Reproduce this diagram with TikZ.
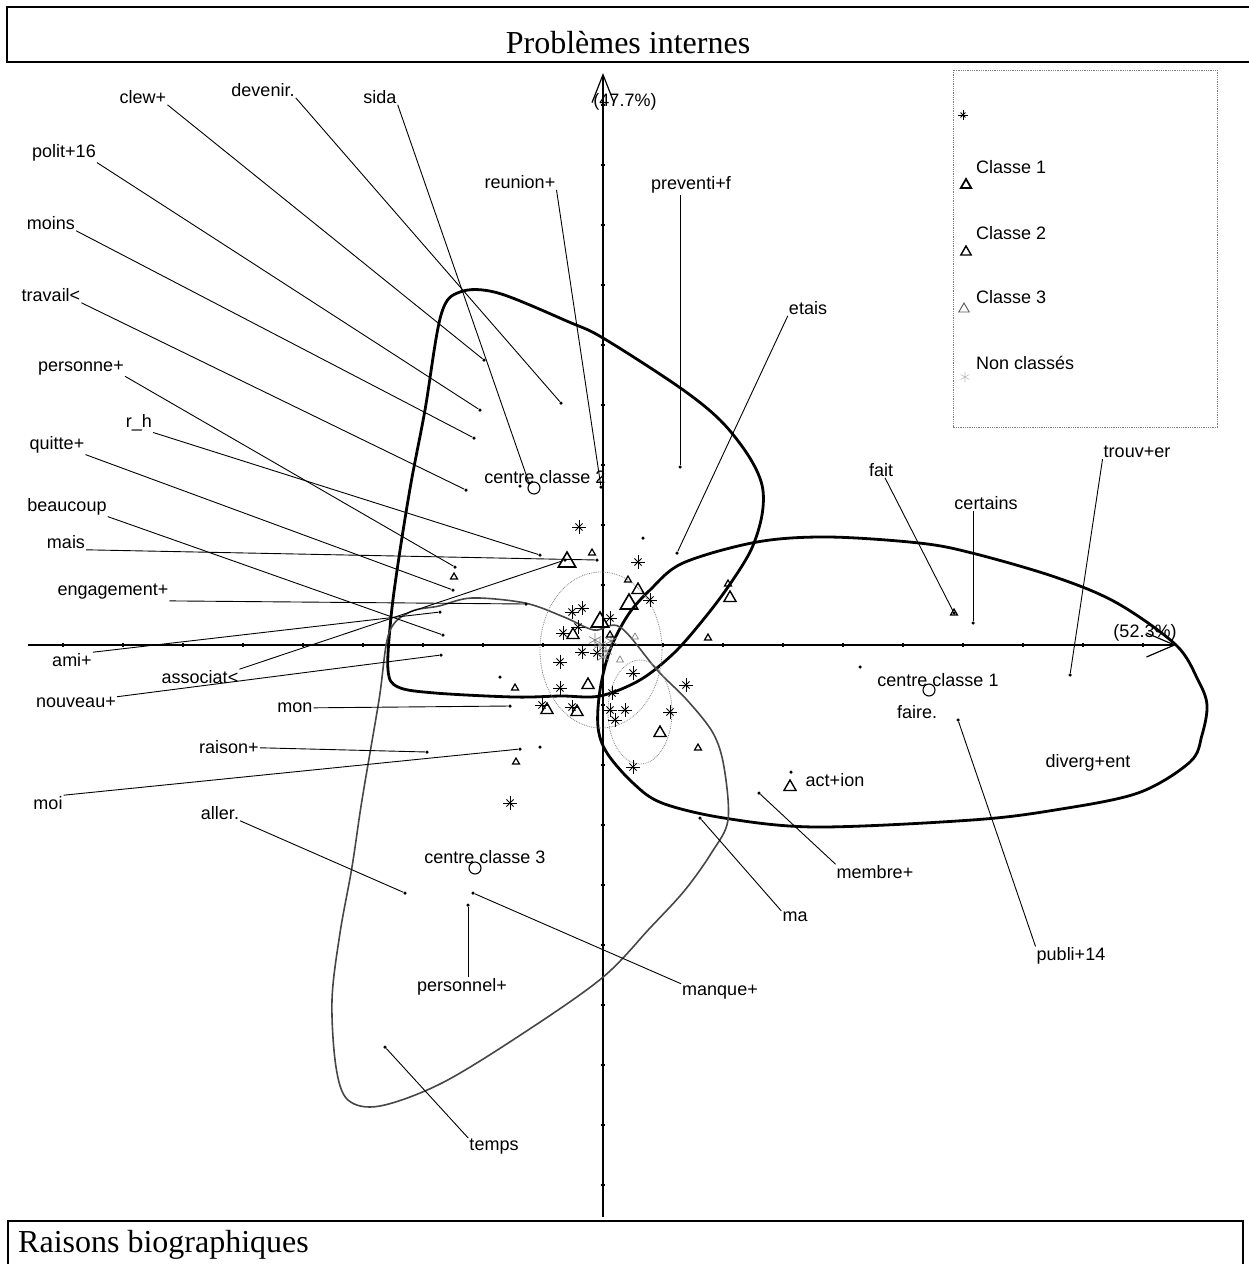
\documentclass[tikz,border=0pt]{standalone}
\usepackage{fontspec}
\setmainfont{Liberation Serif}
\setsansfont{Liberation Sans}
\usetikzlibrary{arrows.meta,plotmarks}

\tikzset{
  lbl/.style={font=\sffamily\fontsize{18}{20}\selectfont, inner sep=1pt},
  pt/.style={circle, fill, inner sep=0pt, minimum size=3.5pt},
  lead/.style={line width=0.9pt},
  axe/.style={line width=1.2pt},
  classe/.style={line width=2.8pt, line join=round},
  classetrois/.style={line width=1.6pt, gray!55!black},
  centre/.style={circle, draw, line width=1.1pt, inner sep=0pt, minimum size=12pt},
  titre/.style={font=\fontsize{32}{36}\selectfont, inner sep=0pt},
}

\begin{document}
\begin{tikzpicture}[x=1pt,y=-1pt]
  \useasboundingbox (0,0) rectangle (1249,1264);

  % cadres des titres
  \draw[line width=1.8pt] (1249,7) -- (7,7) -- (7,62) -- (1249,62);
  \draw[line width=1.8pt] (8,1264) -- (8,1221) -- (1243,1221) -- (1243,1264);
  \node[titre, anchor=base] (haut) at (628,53) {Problèmes internes};
  \node[titre, anchor=base west] (bas) at (18,1252) {Raisons biographiques};

  % axes
  \coordinate (xg) at (28,645);
  \coordinate (xd) at (1176,645);
  \coordinate (yb) at (603,1217);
  \coordinate (yh) at (603,73);
  \draw[axe, -{Straight Barb[length=28pt,width=24pt]}] (xg) -- (xd);
  \draw[axe, -{Straight Barb[length=28pt,width=22pt]}] (yb) -- (yh);
  \foreach \i in {-9,...,9} {
    \draw[axe] (603+60*\i,643) -- (603+60*\i,647);
    \draw[axe] (601,645+60*\i) -- (605,645+60*\i);
  }
  \node[lbl] (axey) at (625,102) {(47.7\%)};
  \node[lbl] (axex) at (1145,633) {(52.3\%)};

  % classes
  \draw[classe] plot[smooth cycle, tension=0.55] coordinates {(650,590) (683,563) (757,542) (828,537) (919,543) (972,553) (1055,577) (1117,603) (1176,645) (1198,680) (1207,705) (1202,735) (1190,762) (1138,793) (1055,810) (972,820) (816,827) (724,818) (662,803) (633,783) (607,753) (598,727) (600,690) (610,650) (628,615)};
  \draw[classe] plot[smooth cycle, tension=0.55] coordinates {(460,292) (498,293) (569,322) (603,338) (679,387) (720,420) (748,455) (762,485) (762,515) (751,550) (728,587) (703,620) (674,653) (640,680) (600,696) (561,696) (514,697) (435,693) (398,687) (388,670) (391,617) (399,557) (411,483) (425,410) (441,315)};
  \draw[classetrois] plot[smooth cycle, tension=0.55] coordinates {(620,627) (657,670) (687,700) (713,733) (724,767) (728,820) (712,852) (685,890) (650,928) (602,978) (522,1034) (442,1083) (380,1106) (348,1100) (336,1067) (332,1000) (340,933) (352,867) (362,800) (379,700) (389,633) (410,612) (439,606) (472,598) (525,603) (564,617) (594,630)};
  \draw[gray, densely dotted, line width=0.8pt] (601,650) ellipse [x radius=61, y radius=78];
  \draw[gray, densely dotted, line width=0.8pt] (640,712) ellipse [x radius=32, y radius=52];

  % legende
  \draw[gray, densely dotted, line width=0.8pt] (953,70) rectangle (1217,427);
  \node[lbl, anchor=west] (cl1) at (975,167) {Classe 1};
  \node[lbl, anchor=west] (cl2) at (975,233) {Classe 2};
  \node[lbl, anchor=west] (cl3) at (975,297) {Classe 3};
  \node[lbl, anchor=west] (ncl) at (975,363) {Non classés};
  \draw[line width=0.9pt] plot[only marks, mark=+, mark size=5pt] coordinates {(963,115)};
  \draw[line width=0.9pt] plot[only marks, mark=x, mark size=3.5pt] coordinates {(963,115)};
  \draw[line width=1.8pt] plot[only marks, mark=triangle, mark size=6pt] coordinates {(966,185)};
  \draw[line width=1.4pt] plot[only marks, mark=triangle, mark size=6pt] coordinates {(966,252)};
  \draw[gray!70!black, line width=0.9pt] plot[only marks, mark=triangle, mark size=6pt] coordinates {(964,309)};
  \draw[gray!50, line width=0.6pt] plot[only marks, mark=asterisk, mark size=5pt] coordinates {(965,377)};

  % points des individus
  \draw[line width=0.9pt] plot[only marks, mark=+, mark size=7pt] coordinates {(579,527) (638,562) (650,600) (582,608) (572,612) (563,633) (578,627) (610,618) (560,662) (582,652) (597,653) (633,673) (686,685) (560,688) (542,705) (572,707) (612,693) (610,710) (625,710) (615,720) (670,712) (633,767) (510,803)};
  \draw[line width=0.9pt] plot[only marks, mark=x, mark size=5pt] coordinates {(579,527) (638,562) (650,600) (582,608) (572,612) (563,633) (578,627) (610,618) (560,662) (582,652) (597,653) (633,673) (686,685) (560,688) (542,705) (572,707) (612,693) (610,710) (625,710) (615,720) (670,712) (633,767) (510,803)};
  \draw[gray, line width=0.7pt] plot[only marks, mark=asterisk, mark size=7pt] coordinates {(600,645) (606,651) (595,640) (603,657) (611,641)};
  \draw[line width=1.6pt] plot[only marks, mark=triangle, mark size=10pt] coordinates {(567,562) (600,622) (629,604)};
  \draw[line width=1.4pt] plot[only marks, mark=triangle, mark size=7pt] coordinates {(638,590) (588,685) (577,712) (547,710) (660,733) (730,598) (573,635) (790,787)};
  \draw[line width=1.2pt] plot[only marks, mark=triangle, mark size=4pt] coordinates {(592,553) (628,580) (610,635) (728,584) (708,638) (698,748) (515,688) (454,577) (516,762) (954,613)};
  \draw[gray, line width=0.7pt] plot[only marks, mark=triangle, mark size=4pt] coordinates {(635,637) (620,660)};

  % centres de classes
  \node[centre] (o1) at (929,690) {};
  \node[centre] (o2) at (534,488) {};
  \node[centre] (o3) at (475,868) {};
  \node[lbl] (cc1) at (938,680) {centre classe 1};
  \node[lbl] (cc2) at (545,477) {centre classe 2};
  \node[lbl] (cc3) at (485,857) {centre classe 3};

  % etiquettes
  \node[lbl] (clew) at (143,97) {clew+};
  \node[lbl] (devenir) at (263,90) {devenir.};
  \node[lbl] (sida) at (380,97) {sida};
  \node[lbl] (polit) at (64,153) {polit+16};
  \node[lbl] (moins) at (51,223) {moins};
  \node[lbl] (travail) at (51,295) {travail\textless};
  \node[lbl] (personne) at (81,368) {personne+};
  \node[lbl] (rh) at (139,423) {r\_h};
  \node[lbl] (quitte) at (57,445) {quitte+};
  \node[lbl] (beaucoup) at (67,507) {beaucoup};
  \node[lbl] (mais) at (66,542) {mais};
  \node[lbl] (engagement) at (113,592) {engagement+};
  \node[lbl] (ami) at (72,660) {ami+};
  \node[lbl] (associat) at (200,677) {associat\textless};
  \node[lbl] (nouveau) at (76,702) {nouveau+};
  \node[lbl] (mon) at (295,708) {mon};
  \node[lbl] (raison) at (229,747) {raison+};
  \node[lbl] (moi) at (48,803) {moi};
  \node[lbl] (aller) at (220,813) {aller.};
  \node[lbl] (personnel) at (462,987) {personnel+};
  \node[lbl] (manque) at (720,992) {manque+};
  \node[lbl] (temps) at (494,1147) {temps};
  \node[lbl] (ma) at (795,917) {ma};
  \node[lbl] (membre) at (875,872) {membre+};
  \node[lbl] (publi) at (1071,956) {publi+14};
  \node[lbl] (diverg) at (1088,763) {diverg+ent};
  \node[lbl] (action) at (835,780) {act+ion};
  \node[lbl] (faire) at (917,712) {faire.};
  \node[lbl] (reunion) at (520,182) {reunion+};
  \node[lbl] (preventi) at (691,185) {preventi+f};
  \node[lbl] (etais) at (808,308) {etais};
  \node[lbl] (fait) at (881,470) {fait};
  \node[lbl] (certains) at (986,503) {certains};
  \node[lbl] (trouver) at (1137,452) {trouv+er};

  % extremites des traits
  \node[pt] (pclew) at (484,360) {};
  \node[pt] (pdevenir) at (561,403) {};
  \node[pt] (psida) at (529,483) {};
  \node[pt] (ppolit) at (480,410) {};
  \node[pt] (pmoins) at (474,438) {};
  \node[pt] (ptravail) at (466,490) {};
  \node[pt] (ppersonne) at (455,567) {};
  \node[pt] (prh) at (540,555) {};
  \node[pt] (pquitte) at (453,590) {};
  \node[pt] (pbeaucoup) at (443,635) {};
  \node[pt] (pmais) at (597,560) {};
  \node[pt] (pengagement) at (526,604) {};
  \node[pt] (pami) at (440,612) {};
  \node[pt] (passociat) at (565,560) {};
  \node[pt] (pnouveau) at (441,655) {};
  \node[pt] (pmon) at (510,706) {};
  \node[pt] (praison) at (427,752) {};
  \node[pt] (pmoi) at (520,749) {};
  \node[pt] (paller) at (405,893) {};
  \node[pt] (ppersonnel) at (468,905) {};
  \node[pt] (pmanque) at (473,893) {};
  \node[pt] (ptemps) at (385,1047) {};
  \node[pt] (pma) at (700,818) {};
  \node[pt] (pmembre) at (759,793) {};
  \node[pt] (ppubli) at (958,720) {};
  \node[pt] (preunion) at (601,487) {};
  \node[pt] (ppreventi) at (680,467) {};
  \node[pt] (petais) at (677,553) {};
  \node[pt] (pfait) at (954,613) {};
  \node[pt] (pcertains) at (973,623) {};
  \node[pt] (ptrouver) at (1070,675) {};
  \node[pt] (q1) at (520,486) {};
  \node[pt] (q2) at (860,667) {};
  \node[pt] (q3) at (791,772) {};
  \node[pt] (q4) at (500,677) {};
  \node[pt] (q5) at (540,747) {};
  \node[pt] (q6) at (643,538) {};

  % traits de rappel
  \draw[lead] (clew.south east) -- (pclew);
  \draw[lead] (devenir.south east) -- (pdevenir);
  \draw[lead] (sida.south east) -- (psida);
  \draw[lead] (polit.south east) -- (ppolit);
  \draw[lead] (moins.south east) -- (pmoins);
  \draw[lead] (travail.south east) -- (ptravail);
  \draw[lead] (personne.south east) -- (ppersonne);
  \draw[lead] (rh.south east) -- (prh);
  \draw[lead] (quitte.south east) -- (pquitte);
  \draw[lead] (beaucoup.south east) -- (pbeaucoup);
  \draw[lead] (mais.south east) -- (pmais);
  \draw[lead] (engagement.south east) -- (pengagement);
  \draw[lead] (ami.north east) -- (pami);
  \draw[lead] (associat.north east) -- (passociat);
  \draw[lead] (nouveau) -- (pnouveau);
  \draw[lead] (mon) -- (pmon);
  \draw[lead] (raison) -- (praison);
  \draw[lead] (moi.north east) -- (pmoi);
  \draw[lead] (aller.south east) -- (paller);
  \draw[lead] (personnel.north -| ppersonnel) -- (ppersonnel);
  \draw[lead] (manque.north west) -- (pmanque);
  \draw[lead] (temps.north west) -- (ptemps);
  \draw[lead] (ma.north west) -- (pma);
  \draw[lead] (membre.north west) -- (pmembre);
  \draw[lead] (publi.north west) -- (ppubli);
  \draw[lead] (reunion.south east) -- (preunion);
  \draw[lead] (preventi.south -| ppreventi) -- (ppreventi);
  \draw[lead] (etais.south west) -- (petais);
  \draw[lead] (fait) -- (pfait);
  \draw[lead] (certains.south -| pcertains) -- (pcertains);
  \draw[lead] (trouver.south west) -- (ptrouver);
\end{tikzpicture}
\end{document}
